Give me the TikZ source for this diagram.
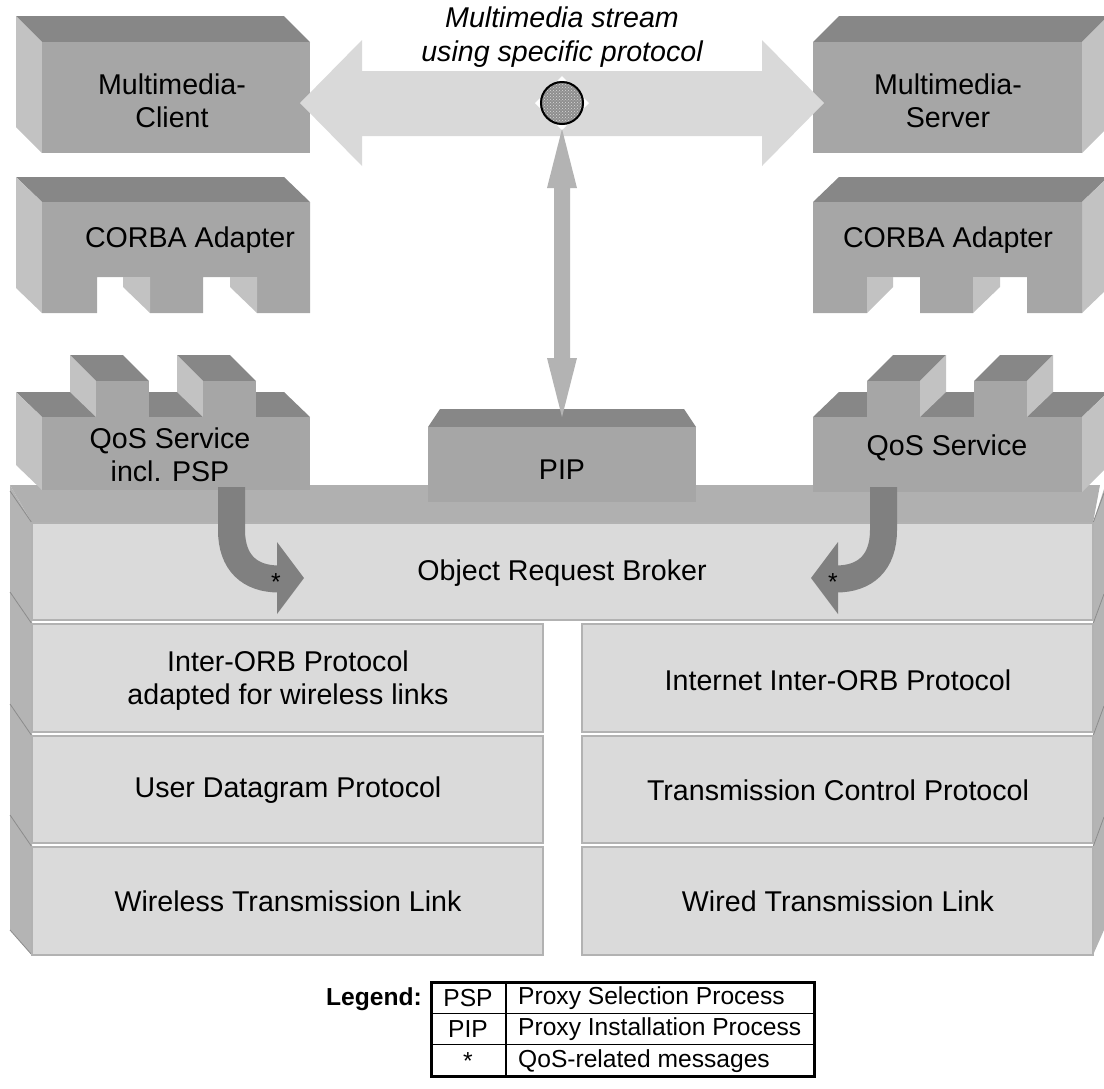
\documentclass[tikz,border=0pt]{standalone}
\usepackage{fontspec}
\setmainfont{Liberation Sans}
\usetikzlibrary{patterns}
\definecolor{btop}{HTML}{878787}
\definecolor{bfront}{HTML}{A6A6A6}
\definecolor{bside}{HTML}{C2C2C2}
\definecolor{sfront}{HTML}{DADADA}
\definecolor{sstrip}{HTML}{B0B0B0}
\definecolor{sside}{HTML}{B4B4B4}
\definecolor{sline}{HTML}{B2B2B2}
\definecolor{streamc}{HTML}{D9D9D9}
\definecolor{varrow}{HTML}{B3B3B3}
\definecolor{carrow}{HTML}{808080}
\definecolor{circfill}{HTML}{8E8E8E}
\tikzset{
  lbl/.style={font=\fontsize{28.6}{33}\selectfont, align=center, inner sep=0pt},
  lgd/.style={font=\fontsize{24.6}{29}\selectfont, inner sep=0pt},
  layerbox/.style={fill=sfront, draw=sline, line width=1.5pt},
  edgeline/.style={draw=black!45, line width=0.8pt},
}
\begin{document}
\begin{tikzpicture}[x=1pt,y=-1pt]
\useasboundingbox (0,0) rectangle (1104,1088);

% ---------- Multimedia-Client (depth up-left)
\fill[btop] (42,42) -- (16,16) -- (284,16) -- (310,42) -- cycle;
\fill[bside] (42,42) -- (16,16) -- (16,127) -- (42,153) -- cycle;
\fill[bfront] (42,42) rectangle (310,153);
\node[lbl] (client) at (172,101) {Multimedia-\\Client};

% ---------- Multimedia-Server (depth up-right)
\fill[btop] (813,42) -- (839,16) -- (1108,16) -- (1082,42) -- cycle;
\fill[bside] (1082,42) -- (1108,16) -- (1108,127) -- (1082,153) -- cycle;
\fill[bfront] (813,42) rectangle (1082,153);
\node[lbl] (server) at (948,101) {Multimedia-\\Server};

% ---------- CORBA Adapter left
\fill[btop] (42,202) -- (16,177) -- (284,177) -- (310,202) -- cycle;
\fill[bside] (42,202) -- (16,177) -- (16,288) -- (42,313) -- cycle;
\fill[bfront] (42,202) -- (310,202) -- (310,313) -- (257,313) -- (257,277) -- (203,277)
  -- (203,313) -- (150,313) -- (150,277) -- (97,277) -- (97,313) -- (42,313) -- cycle;
\fill[bside] (123,277) -- (150,277) -- (150,313) -- (123,287) -- cycle;
\fill[bside] (230,277) -- (257,277) -- (257,313) -- (230,287) -- cycle;
\node[lbl] (corbaL) at (190,240) {CORBA Adapter};

% ---------- CORBA Adapter right
\fill[btop] (813,202) -- (839,177) -- (1108,177) -- (1082,202) -- cycle;
\fill[bside] (1082,202) -- (1108,177) -- (1108,288) -- (1082,313) -- cycle;
\fill[bfront] (813,202) -- (1082,202) -- (1082,313) -- (1027,313) -- (1027,277) -- (973,277)
  -- (973,313) -- (920,313) -- (920,277) -- (867,277) -- (867,313) -- (813,313) -- cycle;
\fill[bside] (867,277) -- (893,277) -- (893,287) -- (867,313) -- cycle;
\fill[bside] (973,277) -- (1000,277) -- (1000,287) -- (973,313) -- cycle;
\node[lbl] (corbaR) at (948,240) {CORBA Adapter};

% ---------- Multimedia stream arrow
\fill[streamc] (300,103) -- (362,40) -- (362,71) -- (762,71) -- (762,40) -- (824,103)
  -- (762,166) -- (762,136) -- (362,136) -- (362,166) -- cycle;
\fill[white] (535,103) -- (562,76) -- (589,103) -- (562,130) -- cycle;
\node[circle, minimum size=44pt, inner sep=0pt, fill=circfill] (proto) at (562,103) {};
\path[pattern=crosshatch dots, pattern color=white!85!black] (proto.center) circle[radius=21pt];
\draw[black, line width=2pt] (proto.center) circle[radius=21pt];
\node[lbl, font=\fontsize{28.6}{34}\selectfont\itshape] (streamtxt) at (562,37)
  {Multimedia stream\\using specific protocol};

% ---------- Protocol stack
\fill[sside] (10,485) -- (32,523) -- (32,955) -- (10,930) -- cycle;
\fill[sside] (1093,523) -- (1104,489) -- (1104,930) -- (1093,955) -- cycle;
\fill[sstrip] (10,485) -- (1100,485) -- (1093,523) -- (32,523) -- cycle;
\foreach \yy in {523,624,736,847} {
  \draw[edgeline] (10,\yy-32) -- (32,\yy);
  \draw[edgeline] (1093,\yy) -- (1104,\yy-30);
}
\draw[edgeline] (10,930) -- (32,955);

\path[layerbox] (32,523) rectangle (1093,620);
\node[lbl] (orb) at (562,573) {Object Request Broker};

\path[layerbox] (32,624) rectangle (543,732);
\node[lbl] (iop) at (288,681) {Inter-ORB Protocol\\adapted for wireless links};
\path[layerbox] (582,624) rectangle (1093,732);
\node[lbl] (iiop) at (838,680) {Internet Inter-ORB Protocol};

\path[layerbox] (32,736) rectangle (543,843);
\node[lbl] (udp) at (288,790) {User Datagram Protocol};
\path[layerbox] (582,736) rectangle (1093,843);
\node[lbl] (tcp) at (838,790) {Transmission Control Protocol};

\path[layerbox] (32,847) rectangle (543,955);
\node[lbl] (wless) at (288,901) {Wireless Transmission Link};
\path[layerbox] (582,847) rectangle (1093,955);
\node[lbl] (wired) at (838,901) {Wired Transmission Link};

% ---------- QoS Service incl. PSP (left)
\fill[btop] (42,417) -- (16,392) -- (284,392) -- (310,417) -- cycle;
\fill[bside] (42,417) -- (16,392) -- (16,465) -- (42,490) -- cycle;
\foreach \tx in {96,203} {
  \fill[btop] (\tx,381) -- (\tx-26,355) -- (\tx+27,355) -- (\tx+53,381) -- cycle;
  \fill[bside] (\tx,381) -- (\tx-26,355) -- (\tx-26,392) -- (\tx,417) -- cycle;
  \fill[bfront] (\tx,381) rectangle (\tx+53,417);
}
\fill[bfront] (42,417) rectangle (310,490);
\node[lbl] (qosL) at (170,455) {QoS Service\\incl. PSP};

% ---------- QoS Service (right)
\fill[btop] (813,417) -- (839,392) -- (1108,392) -- (1082,417) -- cycle;
\fill[bside] (1082,417) -- (1108,392) -- (1108,466) -- (1082,492) -- cycle;
\foreach \tx in {867,974} {
  \fill[btop] (\tx,381) -- (\tx+26,355) -- (\tx+79,355) -- (\tx+53,381) -- cycle;
  \fill[bside] (\tx+53,381) -- (\tx+79,355) -- (\tx+79,392) -- (\tx+53,417) -- cycle;
  \fill[bfront] (\tx,381) rectangle (\tx+53,417);
}
\fill[bfront] (813,417) rectangle (1082,492);
\node[lbl] (qosR) at (947,448) {QoS Service};

% ---------- PIP
\fill[btop] (428,427) -- (440,409) -- (684,409) -- (696,427) -- cycle;
\fill[bfront] (428,427) rectangle (696,502);
\node[lbl] (pip) at (562,470) {PIP};

% ---------- vertical double arrow (protocol <-> PIP)
\fill[varrow] (562,129) -- (577,188) -- (570,188) -- (570,358) -- (577,358) -- (562,417)
  -- (547,358) -- (554,358) -- (554,188) -- (547,188) -- cycle;

% ---------- curved QoS message arrows
\draw[carrow, line width=27pt] (231.5,487) -- (231.5,530)
  .. controls (231.5,563) and (250,579) .. (279,579);
\fill[carrow] (277,542) -- (304,578) -- (277,614) -- cycle;
\node[lgd] (astL) at (276,582) {*};

\draw[carrow, line width=27pt] (883.5,487) -- (883.5,530)
  .. controls (883.5,563) and (865,579) .. (836,579);
\fill[carrow] (838,542) -- (811,578) -- (838,614) -- cycle;
\node[lgd] (astR) at (833,582) {*};

% ---------- Legend
\node[lgd, font=\fontsize{24.6}{29}\selectfont\bfseries, anchor=east] (legend) at (422,999) {Legend:};
\draw[line width=1.5pt] (506,982) -- (506,1076);
\draw[line width=1.5pt] (431,1013.3) -- (814,1013.3);
\draw[line width=1.5pt] (431,1044.7) -- (814,1044.7);
\draw[line width=3pt] (431,982) rectangle (814,1076);
\node[lgd] (k1) at (468,998) {PSP};
\node[lgd, anchor=west] (v1) at (518,998) {Proxy Selection Process};
\node[lgd] (k2) at (468,1029) {PIP};
\node[lgd, anchor=west] (v2) at (518,1029) {Proxy Installation Process};
\node[lgd] (k3) at (468,1061) {*};
\node[lgd, anchor=west] (v3) at (518,1061) {QoS-related messages};
\end{tikzpicture}
\end{document}
